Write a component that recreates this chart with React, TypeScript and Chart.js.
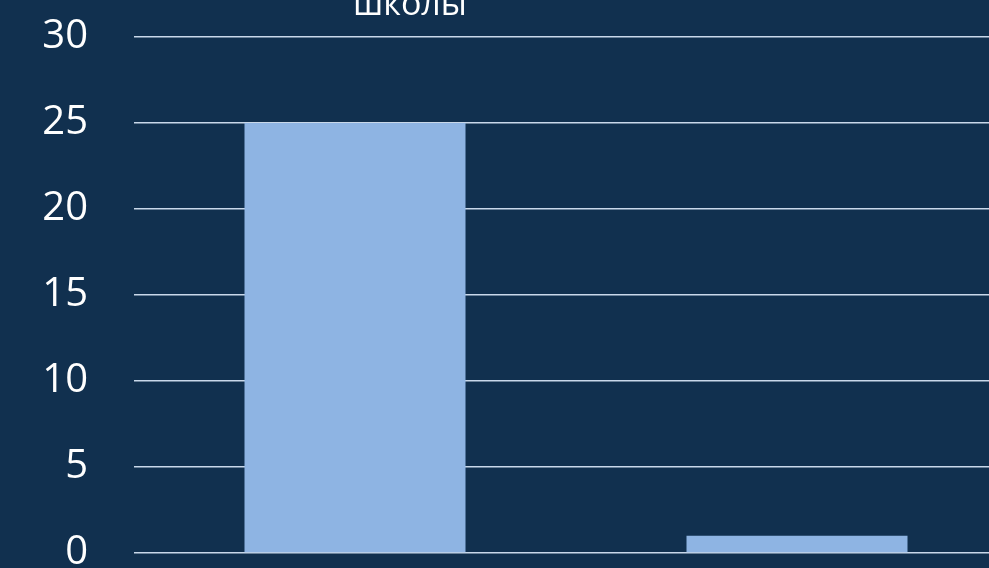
import React, { useEffect, useRef } from "react";
import { Chart, registerables } from "chart.js";

Chart.register(...registerables);

const categories = ["Категория 1", "Категория 2"];
const values = [25, 1];
const yTicks = [0, 5, 10, 15, 20, 25, 30];
const titleText = "школы";

const BG = "#11304f";
const BAR = "#8eb4e3";
const GRID = "#c9d8ea";

export default function App() {
  const ref = useRef<HTMLCanvasElement | null>(null);

  useEffect(() => {
    if (!ref.current) return;
    const titlePlugin = {
      id: "partialTitle",
      afterDraw(chart: any) {
        const ctx = chart.ctx;
        ctx.save();
        ctx.fillStyle = "#ffffff";
        ctx.font = "34px 'Open Sans'";
        ctx.textAlign = "center";
        ctx.textBaseline = "alphabetic";
        ctx.fillText(titleText, 410, 15);
        ctx.restore();
      },
    };
    const bgPlugin = {
      id: "bg",
      beforeDraw(chart: any) {
        const ctx = chart.ctx;
        ctx.save();
        ctx.fillStyle = BG;
        ctx.fillRect(0, 0, chart.width, chart.height);
        ctx.restore();
      },
    };
    const chart = new Chart(ref.current, {
      type: "bar",
      data: {
        labels: categories,
        datasets: [
          {
            data: values,
            backgroundColor: BAR,
            borderWidth: 0,
            barPercentage: 0.5,
            categoryPercentage: 1,
          },
        ],
      },
      options: {
        responsive: false,
        animation: false,
        layout: { padding: { top: 37, bottom: 15, left: 0, right: 0 } },
        plugins: {
          legend: { display: false },
          title: { display: false },
          tooltip: { enabled: false },
        },
        scales: {
          x: { display: false },
          y: {
            min: 0,
            max: 30,
            afterFit(scale: any) {
              scale.width = 134;
              scale.paddingTop = 0;
              scale.paddingBottom = 0;
            },
            afterBuildTicks(scale: any) {
              scale.ticks = yTicks.map((v) => ({ value: v }));
            },
            border: { display: false },
            grid: { color: GRID, lineWidth: 1.5, drawTicks: false },
            ticks: {
              color: "#ffffff",
              padding: 46,
              font: { family: "'Open Sans'", size: 40 },
            },
          },
        },
      },
      plugins: [bgPlugin, titlePlugin],
    });
    return () => chart.destroy();
  }, []);

  return (
    <div
      style={{
        position: "fixed",
        left: 0,
        top: 0,
        width: 989,
        height: 568,
        overflow: "hidden",
        background: BG,
      }}
    >
      <canvas ref={ref} width={1018} height={568} style={{ display: "block" }} />
    </div>
  );
}
